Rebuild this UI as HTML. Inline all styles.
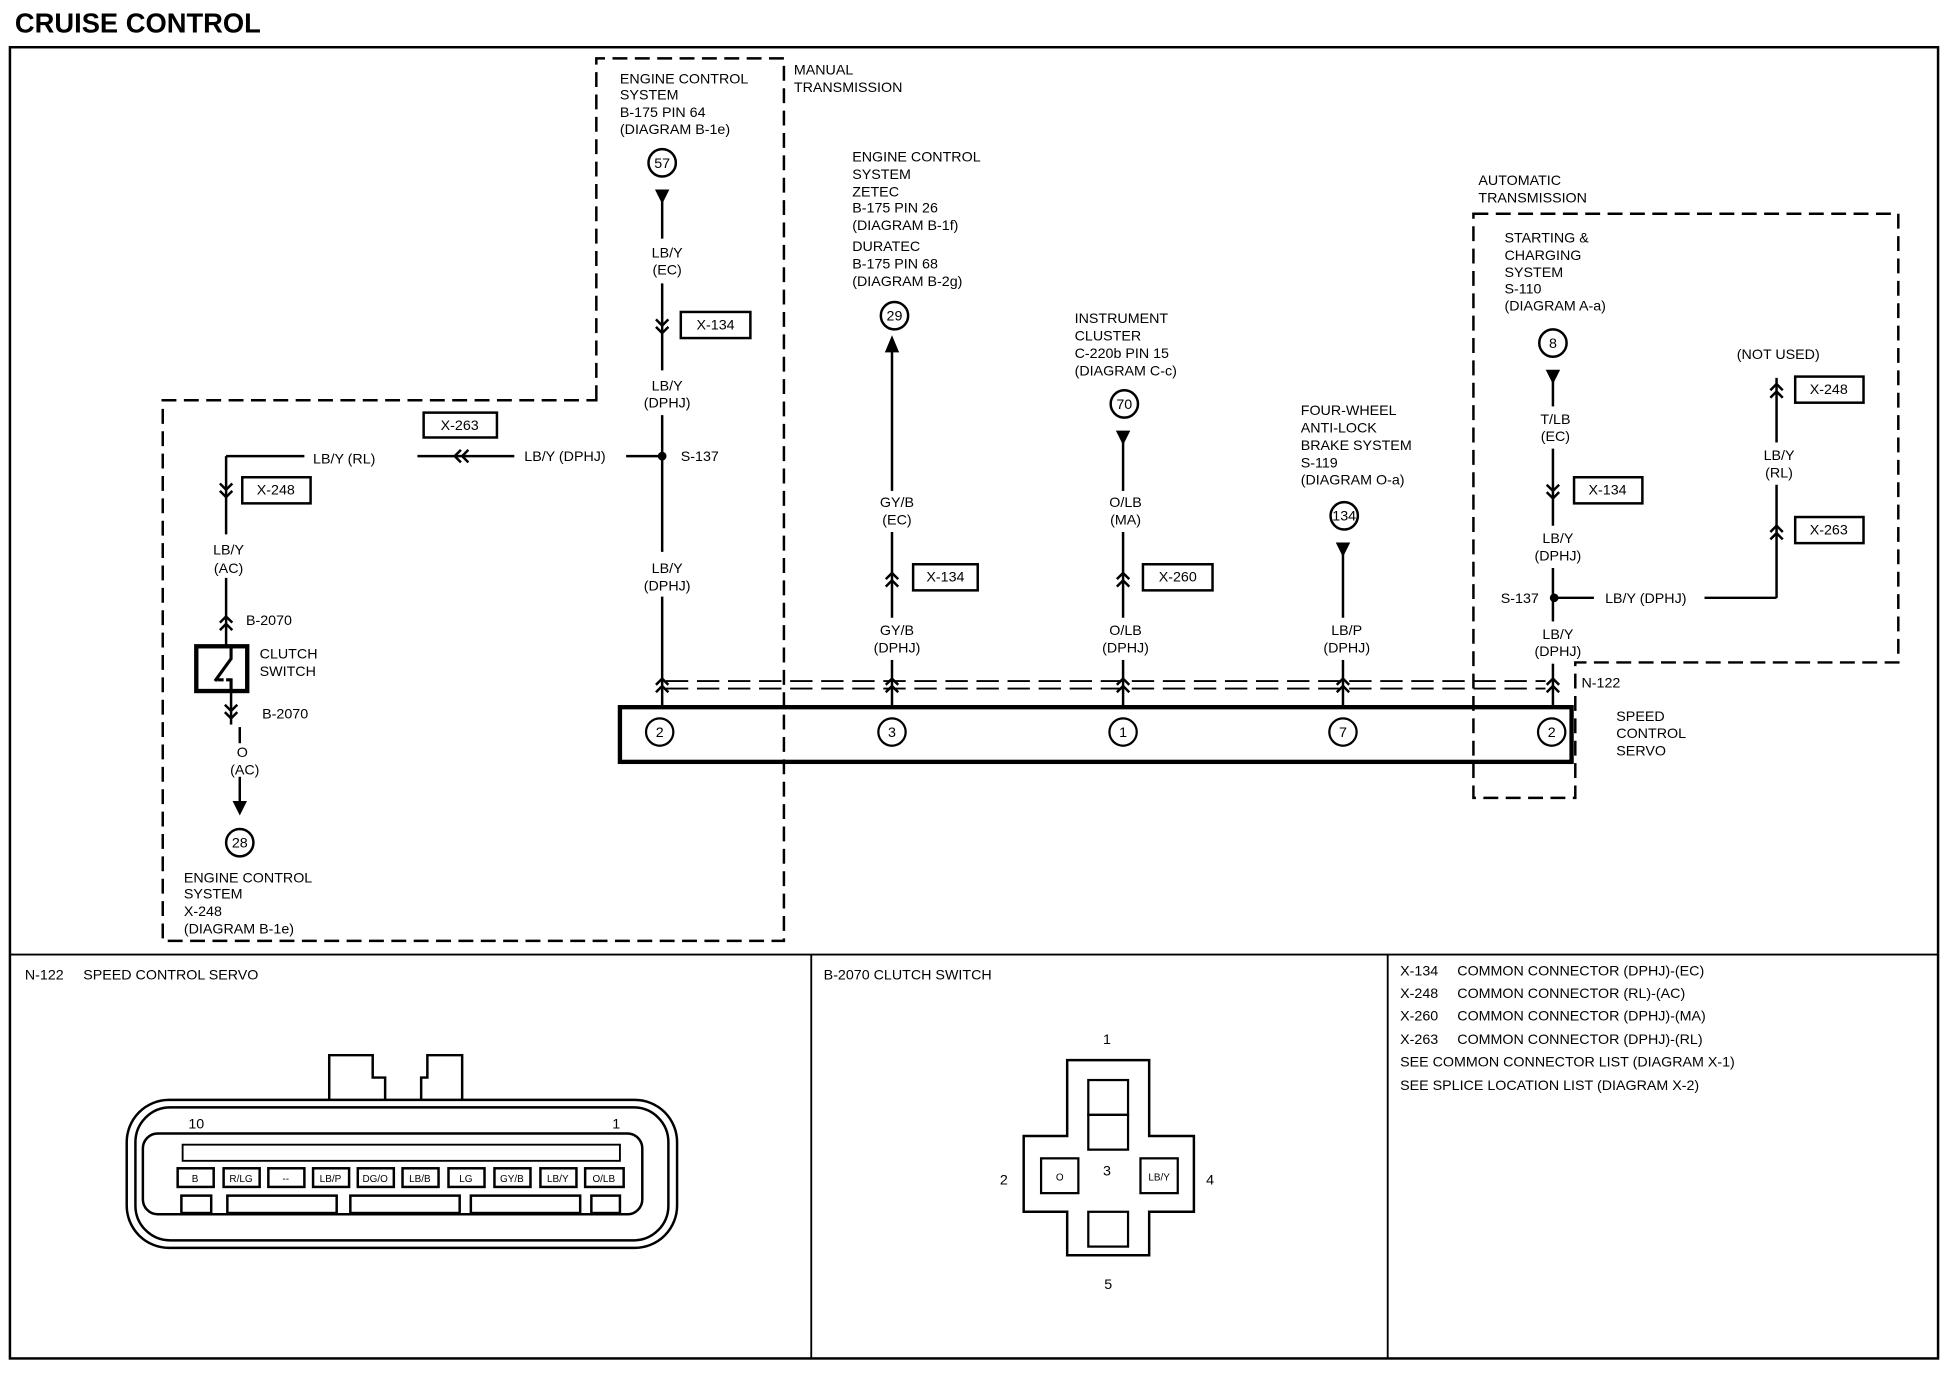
<!DOCTYPE html>
<html><head><meta charset="utf-8"><style>
html,body{margin:0;padding:0;background:#fff;}
svg{display:block;}
text{font-family:"Liberation Sans",sans-serif;font-size:11.5px;fill:#000;}
.c{text-anchor:middle;}
.b{font-weight:bold;}
</style></head><body>
<svg width="1948" height="1392" viewBox="0 0 1568 1120" preserveAspectRatio="none" xmlns="http://www.w3.org/2000/svg">
<defs>
<path id="cd" d="M-5,-7 L0,-2 L5,-7 M-5,-1 L0,4 L5,-1" fill="none" stroke="#000" stroke-width="2"/>
<path id="cu" d="M-5,7 L0,2 L5,7 M-5,1 L0,-4 L5,1" fill="none" stroke="#000" stroke-width="2"/>
<path id="cl" d="M7,-5 L2,0 L7,5 M1,-5 L-4,0 L1,5" fill="none" stroke="#000" stroke-width="2"/>
</defs>
<g stroke="#000" fill="none">
<text x="12" y="26" class="b" style="font-size:22px" stroke="none">CRUISE CONTROL</text>
<rect x="8" y="38" width="1552" height="1055" stroke-width="2"/>
<line x1="8" y1="768" x2="1560" y2="768" stroke-width="1.5"/>
<line x1="653" y1="768" x2="653" y2="1093" stroke-width="1.5"/>
<line x1="1117" y1="768" x2="1117" y2="1093" stroke-width="1.5"/>
<path d="M480,322 L480,47 L631,47 L631,757 L131,757 L131,322 Z" stroke-width="2" stroke-dasharray="12,6"/>
<path d="M1186,172 L1528,172 L1528,533 L1268,533 L1268,642 L1186,642 Z" stroke-width="2" stroke-dasharray="12,6"/>
<rect x="499" y="569" width="766" height="44" stroke-width="3.5"/>
<line x1="536" y1="548" x2="1244" y2="548" stroke-width="1.5" stroke-dasharray="18,7"/>
<line x1="536" y1="554" x2="1244" y2="554" stroke-width="1.5" stroke-dasharray="18,7"/>
<g stroke-width="1.8">
<circle cx="531" cy="589" r="11"/><circle cx="718" cy="589" r="11"/><circle cx="904" cy="589" r="11"/><circle cx="1081" cy="589" r="11"/><circle cx="1249" cy="589" r="11"/>
</g>
<g stroke="none">
<text x="531" y="593" class="c">2</text><text x="718" y="593" class="c">3</text><text x="904" y="593" class="c">1</text><text x="1081" y="593" class="c">7</text><text x="1249" y="593" class="c">2</text>
</g>
<text x="1301" y="580" stroke="none">SPEED</text><text x="1301" y="594" stroke="none">CONTROL</text><text x="1301" y="608" stroke="none">SERVO</text>
<text x="1273" y="553" stroke="none">N-122</text>

<g stroke-width="2">
<circle cx="533" cy="131" r="11"/>
<line x1="533" y1="160" x2="533" y2="192"/>
<line x1="533" y1="228" x2="533" y2="298"/>
<line x1="533" y1="334" x2="533" y2="444"/>
<line x1="533" y1="480" x2="533" y2="569"/>
<line x1="533" y1="367" x2="504" y2="367"/>
<line x1="414" y1="367" x2="336" y2="367"/>
<line x1="245" y1="367" x2="182" y2="367"/>
<line x1="182" y1="367" x2="182" y2="430"/>
<line x1="182" y1="465" x2="182" y2="520"/>
<line x1="186" y1="556" x2="186" y2="583"/>
<line x1="193" y1="585" x2="193" y2="598"/>
<line x1="193" y1="625" x2="193" y2="645"/>
<circle cx="193" cy="678" r="11"/>
</g>
<path d="M528,153 L538,153 L533,163 Z" fill="#000"/>
<circle cx="533" cy="367" r="3" fill="#000"/>
<use href="#cd" x="533" y="264"/>
<use href="#cu" x="533" y="550"/>
<use href="#cl" x="370" y="367"/>
<use href="#cd" x="182" y="396"/>
<use href="#cu" x="182" y="500"/>
<use href="#cd" x="186" y="574"/>
<path d="M188,645 L198,645 L193,655 Z" fill="#000"/>
<rect x="158" y="520" width="41" height="36" stroke-width="3.5"/>
<path d="M186,520 L186,530 L173,548 M175,547 L180,547 M182,547 L186,547 L186,556" stroke-width="2.5"/>
<g stroke="none">
<text x="533" y="135" class="c">57</text>
<text x="499" y="67">ENGINE CONTROL</text><text x="499" y="80">SYSTEM</text><text x="499" y="94">B-175 PIN 64</text><text x="499" y="108">(DIAGRAM B-1e)</text>
<text x="639" y="60">MANUAL</text><text x="639" y="74">TRANSMISSION</text>
<text x="537" y="207" class="c">LB/Y</text><text x="537" y="221" class="c">(EC)</text>
<text x="537" y="314" class="c">LB/Y</text><text x="537" y="328" class="c">(DPHJ)</text>
<text x="537" y="461" class="c">LB/Y</text><text x="537" y="475" class="c">(DPHJ)</text>
<text x="548" y="371">S-137</text>
<text x="422" y="371">LB/Y (DPHJ)</text>
<text x="252" y="373">LB/Y (RL)</text>
<text x="184" y="446" class="c">LB/Y</text><text x="184" y="461" class="c">(AC)</text>
<text x="198" y="503">B-2070</text>
<text x="209" y="530">CLUTCH</text><text x="209" y="544">SWITCH</text>
<text x="211" y="578">B-2070</text>
<text x="195" y="609" class="c">O</text><text x="197" y="623" class="c">(AC)</text>
<text x="193" y="682" class="c">28</text>
<text x="148" y="710">ENGINE CONTROL</text><text x="148" y="723">SYSTEM</text><text x="148" y="737">X-248</text><text x="148" y="751">(DIAGRAM B-1e)</text>
</g>
<g stroke-width="2">
<rect x="548" y="251" width="56" height="21"/>
<rect x="341" y="332" width="59" height="20"/>
<rect x="195" y="384" width="55" height="21"/>
</g>
<g stroke="none">
<text x="576" y="265" class="c">X-134</text><text x="370" y="346" class="c">X-263</text><text x="222" y="398" class="c">X-248</text>
</g>

<g stroke-width="2">
<circle cx="720" cy="254" r="11"/>
<line x1="718" y1="276" x2="718" y2="395"/>
<line x1="718" y1="428" x2="718" y2="497"/>
<line x1="718" y1="531" x2="718" y2="569"/>
<rect x="735" y="454" width="52" height="21"/>
</g>
<path d="M713,283 L723,283 L718,271 Z" fill="#000"/>
<use href="#cu" x="718" y="465"/><use href="#cu" x="718" y="550"/>
<g stroke="none">
<text x="720" y="258" class="c">29</text>
<text x="686" y="130">ENGINE CONTROL</text><text x="686" y="144">SYSTEM</text><text x="686" y="158">ZETEC</text><text x="686" y="171">B-175 PIN 26</text><text x="686" y="185">(DIAGRAM B-1f)</text>
<text x="686" y="202">DURATEC</text><text x="686" y="216">B-175 PIN 68</text><text x="686" y="230">(DIAGRAM B-2g)</text>
<text x="722" y="408" class="c">GY/B</text><text x="722" y="422" class="c">(EC)</text>
<text x="722" y="511" class="c">GY/B</text><text x="722" y="525" class="c">(DPHJ)</text>
<text x="761" y="468" class="c">X-134</text>
</g>

<g stroke-width="2">
<circle cx="905" cy="325" r="11"/>
<line x1="904" y1="352" x2="904" y2="395"/>
<line x1="904" y1="428" x2="904" y2="497"/>
<line x1="904" y1="531" x2="904" y2="569"/>
<rect x="920" y="454" width="56" height="21"/>
</g>
<path d="M899,347 L909,347 L904,357 Z" fill="#000"/>
<use href="#cu" x="904" y="465"/><use href="#cu" x="904" y="550"/>
<g stroke="none">
<text x="905" y="329" class="c">70</text>
<text x="865" y="260">INSTRUMENT</text><text x="865" y="274">CLUSTER</text><text x="865" y="288">C-220b PIN 15</text><text x="865" y="302">(DIAGRAM C-c)</text>
<text x="906" y="408" class="c">O/LB</text><text x="906" y="422" class="c">(MA)</text>
<text x="906" y="511" class="c">O/LB</text><text x="906" y="525" class="c">(DPHJ)</text>
<text x="948" y="468" class="c">X-260</text>
</g>

<g stroke-width="2">
<circle cx="1082" cy="415" r="11"/>
<line x1="1081" y1="442" x2="1081" y2="497"/>
<line x1="1081" y1="531" x2="1081" y2="569"/>
</g>
<path d="M1076,437 L1086,437 L1081,447 Z" fill="#000"/>
<use href="#cu" x="1081" y="550"/>
<g stroke="none">
<text x="1082" y="419" class="c">134</text>
<text x="1047" y="334">FOUR-WHEEL</text><text x="1047" y="348">ANTI-LOCK</text><text x="1047" y="362">BRAKE  SYSTEM</text><text x="1047" y="376">S-119</text><text x="1047" y="390">(DIAGRAM O-a)</text>
<text x="1084" y="511" class="c">LB/P</text><text x="1084" y="525" class="c">(DPHJ)</text>
</g>

<g stroke-width="2">
<circle cx="1250" cy="276" r="11"/>
<line x1="1250" y1="304" x2="1250" y2="327"/>
<line x1="1250" y1="361" x2="1250" y2="423"/>
<line x1="1250" y1="457" x2="1250" y2="500"/>
<line x1="1250" y1="534" x2="1250" y2="569"/>
<line x1="1250" y1="481" x2="1283" y2="481"/>
<line x1="1372" y1="481" x2="1430" y2="481"/>
<line x1="1430" y1="481" x2="1430" y2="390"/>
<line x1="1430" y1="356" x2="1430" y2="304"/>
<rect x="1267" y="384" width="55" height="21"/>
<rect x="1445" y="303" width="55" height="21"/>
<rect x="1445" y="416" width="55" height="21"/>
</g>
<path d="M1245,298 L1255,298 L1250,308 Z" fill="#000"/>
<circle cx="1251" cy="481" r="3" fill="#000"/>
<use href="#cd" x="1250" y="397"/><use href="#cu" x="1250" y="550"/>
<use href="#cu" x="1430" y="427"/><use href="#cu" x="1430" y="313"/>
<g stroke="none">
<text x="1250" y="280" class="c">8</text>
<text x="1190" y="149">AUTOMATIC</text><text x="1190" y="163">TRANSMISSION</text>
<text x="1211" y="195">STARTING &amp;</text><text x="1211" y="209">CHARGING</text><text x="1211" y="223">SYSTEM</text><text x="1211" y="236">S-110</text><text x="1211" y="250">(DIAGRAM A-a)</text>
<text x="1252" y="341" class="c">T/LB</text><text x="1252" y="355" class="c">(EC)</text>
<text x="1254" y="437" class="c">LB/Y</text><text x="1254" y="451" class="c">(DPHJ)</text>
<text x="1254" y="514" class="c">LB/Y</text><text x="1254" y="528" class="c">(DPHJ)</text>
<text x="1208" y="485">S-137</text>
<text x="1292" y="485">LB/Y (DPHJ)</text>
<text x="1398" y="289">(NOT USED)</text>
<text x="1432" y="370" class="c">LB/Y</text><text x="1432" y="384" class="c">(RL)</text>
<text x="1294" y="398" class="c">X-134</text><text x="1472" y="317" class="c">X-248</text><text x="1472" y="430" class="c">X-263</text>
</g>

<g stroke="none">
<text x="20" y="788">N-122</text><text x="67" y="788">SPEED CONTROL SERVO</text>
<text x="663" y="788">B-2070 CLUTCH SWITCH</text>
<text x="1127" y="785">X-134</text><text x="1173" y="785">COMMON CONNECTOR (DPHJ)-(EC)</text>
<text x="1127" y="803">X-248</text><text x="1173" y="803">COMMON CONNECTOR (RL)-(AC)</text>
<text x="1127" y="821">X-260</text><text x="1173" y="821">COMMON CONNECTOR (DPHJ)-(MA)</text>
<text x="1127" y="840">X-263</text><text x="1173" y="840">COMMON CONNECTOR (DPHJ)-(RL)</text>
<text x="1127" y="858">SEE COMMON CONNECTOR  LIST (DIAGRAM X-1)</text>
<text x="1127" y="877">SEE SPLICE LOCATION LIST (DIAGRAM X-2)</text>
</g>
<g stroke-width="2">
<path d="M265,885 L265,849 L300,849 L300,867 L310,867 L310,885"/>
<path d="M339,885 L339,867 L344,867 L344,849 L372,849 L372,885"/>
<rect x="102" y="885" width="443" height="119" rx="34"/>
<rect x="109" y="891" width="429" height="107" rx="28"/>
<rect x="115" y="912" width="402" height="65" rx="12"/>
<rect x="147" y="921" width="352" height="13" stroke-width="1.5"/>
<rect x="143" y="940" width="29" height="15"/><rect x="180" y="940" width="29" height="15"/><rect x="216" y="940" width="29" height="15"/>
<rect x="252" y="940" width="29" height="15"/><rect x="288" y="940" width="29" height="15"/><rect x="324" y="940" width="29" height="15"/>
<rect x="361" y="940" width="29" height="15"/><rect x="398" y="940" width="29" height="15"/><rect x="435" y="940" width="29" height="15"/>
<rect x="471" y="940" width="31" height="15"/>
<rect x="146" y="962" width="24" height="14"/><rect x="183" y="962" width="88" height="14"/><rect x="282" y="962" width="88" height="14"/><rect x="379" y="962" width="88" height="14"/><rect x="476" y="962" width="23" height="14"/>
</g>
<g stroke="none">
<text x="157" y="951" class="c" style="font-size:8px">B</text><text x="194" y="951" class="c" style="font-size:8px">R/LG</text><text x="230" y="951" class="c" style="font-size:8px">--</text>
<text x="266" y="951" class="c" style="font-size:8px">LB/P</text><text x="302" y="951" class="c" style="font-size:8px">DG/O</text><text x="338" y="951" class="c" style="font-size:8px">LB/B</text>
<text x="375" y="951" class="c" style="font-size:8px">LG</text><text x="412" y="951" class="c" style="font-size:8px">GY/B</text><text x="449" y="951" class="c" style="font-size:8px">LB/Y</text><text x="486" y="951" class="c" style="font-size:8px">O/LB</text>
<text x="158" y="908" class="c">10</text><text x="496" y="908" class="c">1</text>
</g>
<path d="M859,853 L925,853 L925,914 L961,914 L961,975 L925,975 L925,1010 L859,1010 L859,975 L824,975 L824,914 L859,914 Z" stroke-width="2"/>
<g stroke-width="1.8">
<rect x="876" y="869" width="32" height="28"/><rect x="876" y="897" width="32" height="28"/>
<rect x="838" y="932" width="30" height="28"/><rect x="918" y="932" width="30" height="28"/>
<rect x="876" y="975" width="32" height="28"/>
</g>
<g stroke="none">
<text x="891" y="840" class="c">1</text><text x="808" y="953" class="c">2</text><text x="891" y="946" class="c">3</text><text x="974" y="953" class="c">4</text><text x="892" y="1037" class="c">5</text>
<text x="853" y="950" class="c" style="font-size:8px">O</text><text x="933" y="950" class="c" style="font-size:8px">LB/Y</text>
</g>
</g>
</svg>
</body></html>
